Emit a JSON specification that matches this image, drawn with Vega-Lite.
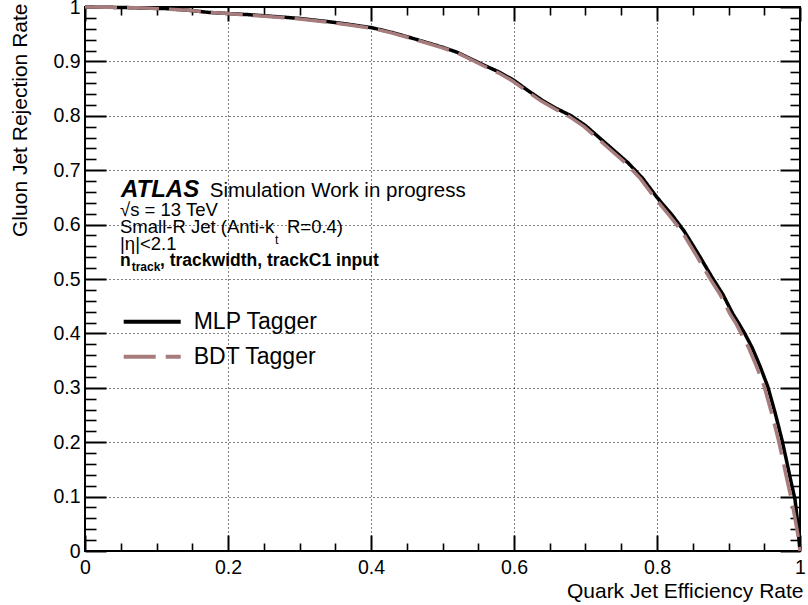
{
  "$schema": "https://vega.github.io/schema/vega-lite/v6.json",
  "width": 715,
  "height": 544,
  "autosize": {"type": "none"},
  "padding": {"left": 85, "top": 7, "right": 8, "bottom": 54},
  "background": "white",
  "config": {
    "view": {"stroke": "black", "strokeWidth": 2},
    "font": "Liberation Sans",
    "axis": {"labelFont": "Liberation Sans", "titleFont": "Liberation Sans", "labelColor": "black", "titleColor": "black", "tickColor": "black", "titleFontWeight": "normal"},
    "legend": {"labelFont": "Liberation Sans", "labelColor": "black"}
  },
  "datasets": {
    "curves": [
      {"tagger": "MLP Tagger", "eff": 0.000, "rej": 1.000},
      {"tagger": "MLP Tagger", "eff": 0.030, "rej": 0.9995},
      {"tagger": "MLP Tagger", "eff": 0.056, "rej": 0.999},
      {"tagger": "MLP Tagger", "eff": 0.085, "rej": 0.998},
      {"tagger": "MLP Tagger", "eff": 0.114, "rej": 0.997},
      {"tagger": "MLP Tagger", "eff": 0.145, "rej": 0.994},
      {"tagger": "MLP Tagger", "eff": 0.173, "rej": 0.990},
      {"tagger": "MLP Tagger", "eff": 0.200, "rej": 0.988},
      {"tagger": "MLP Tagger", "eff": 0.228, "rej": 0.986},
      {"tagger": "MLP Tagger", "eff": 0.260, "rej": 0.983},
      {"tagger": "MLP Tagger", "eff": 0.300, "rej": 0.979},
      {"tagger": "MLP Tagger", "eff": 0.341, "rej": 0.973},
      {"tagger": "MLP Tagger", "eff": 0.370, "rej": 0.968},
      {"tagger": "MLP Tagger", "eff": 0.401, "rej": 0.962},
      {"tagger": "MLP Tagger", "eff": 0.430, "rej": 0.953},
      {"tagger": "MLP Tagger", "eff": 0.462, "rej": 0.941},
      {"tagger": "MLP Tagger", "eff": 0.500, "rej": 0.926},
      {"tagger": "MLP Tagger", "eff": 0.520, "rej": 0.917},
      {"tagger": "MLP Tagger", "eff": 0.539, "rej": 0.905},
      {"tagger": "MLP Tagger", "eff": 0.558, "rej": 0.893},
      {"tagger": "MLP Tagger", "eff": 0.580, "rej": 0.880},
      {"tagger": "MLP Tagger", "eff": 0.600, "rej": 0.865},
      {"tagger": "MLP Tagger", "eff": 0.620, "rej": 0.846},
      {"tagger": "MLP Tagger", "eff": 0.640, "rej": 0.828},
      {"tagger": "MLP Tagger", "eff": 0.660, "rej": 0.813},
      {"tagger": "MLP Tagger", "eff": 0.680, "rej": 0.800},
      {"tagger": "MLP Tagger", "eff": 0.700, "rej": 0.782},
      {"tagger": "MLP Tagger", "eff": 0.720, "rej": 0.759},
      {"tagger": "MLP Tagger", "eff": 0.740, "rej": 0.736},
      {"tagger": "MLP Tagger", "eff": 0.760, "rej": 0.713},
      {"tagger": "MLP Tagger", "eff": 0.780, "rej": 0.685},
      {"tagger": "MLP Tagger", "eff": 0.800, "rej": 0.650},
      {"tagger": "MLP Tagger", "eff": 0.822, "rej": 0.616},
      {"tagger": "MLP Tagger", "eff": 0.838, "rej": 0.588},
      {"tagger": "MLP Tagger", "eff": 0.860, "rej": 0.541},
      {"tagger": "MLP Tagger", "eff": 0.877, "rej": 0.503},
      {"tagger": "MLP Tagger", "eff": 0.892, "rej": 0.472},
      {"tagger": "MLP Tagger", "eff": 0.906, "rej": 0.436},
      {"tagger": "MLP Tagger", "eff": 0.915, "rej": 0.417},
      {"tagger": "MLP Tagger", "eff": 0.923, "rej": 0.399},
      {"tagger": "MLP Tagger", "eff": 0.933, "rej": 0.374},
      {"tagger": "MLP Tagger", "eff": 0.944, "rej": 0.340},
      {"tagger": "MLP Tagger", "eff": 0.955, "rej": 0.302},
      {"tagger": "MLP Tagger", "eff": 0.966, "rej": 0.250},
      {"tagger": "MLP Tagger", "eff": 0.975, "rej": 0.203},
      {"tagger": "MLP Tagger", "eff": 0.981, "rej": 0.167},
      {"tagger": "MLP Tagger", "eff": 0.987, "rej": 0.130},
      {"tagger": "MLP Tagger", "eff": 0.993, "rej": 0.095},
      {"tagger": "MLP Tagger", "eff": 0.996, "rej": 0.060},
      {"tagger": "MLP Tagger", "eff": 0.998, "rej": 0.030},
      {"tagger": "MLP Tagger", "eff": 1.000, "rej": 0.000},
      {"tagger": "BDT Tagger", "eff": 0.000, "rej": 1.000},
      {"tagger": "BDT Tagger", "eff": 0.030, "rej": 0.9995},
      {"tagger": "BDT Tagger", "eff": 0.056, "rej": 0.999},
      {"tagger": "BDT Tagger", "eff": 0.085, "rej": 0.998},
      {"tagger": "BDT Tagger", "eff": 0.114, "rej": 0.996},
      {"tagger": "BDT Tagger", "eff": 0.145, "rej": 0.994},
      {"tagger": "BDT Tagger", "eff": 0.173, "rej": 0.990},
      {"tagger": "BDT Tagger", "eff": 0.200, "rej": 0.988},
      {"tagger": "BDT Tagger", "eff": 0.228, "rej": 0.985},
      {"tagger": "BDT Tagger", "eff": 0.260, "rej": 0.982},
      {"tagger": "BDT Tagger", "eff": 0.300, "rej": 0.978},
      {"tagger": "BDT Tagger", "eff": 0.341, "rej": 0.972},
      {"tagger": "BDT Tagger", "eff": 0.370, "rej": 0.967},
      {"tagger": "BDT Tagger", "eff": 0.401, "rej": 0.961},
      {"tagger": "BDT Tagger", "eff": 0.430, "rej": 0.952},
      {"tagger": "BDT Tagger", "eff": 0.462, "rej": 0.940},
      {"tagger": "BDT Tagger", "eff": 0.500, "rej": 0.925},
      {"tagger": "BDT Tagger", "eff": 0.520, "rej": 0.916},
      {"tagger": "BDT Tagger", "eff": 0.539, "rej": 0.904},
      {"tagger": "BDT Tagger", "eff": 0.557, "rej": 0.892},
      {"tagger": "BDT Tagger", "eff": 0.578, "rej": 0.879},
      {"tagger": "BDT Tagger", "eff": 0.598, "rej": 0.864},
      {"tagger": "BDT Tagger", "eff": 0.618, "rej": 0.845},
      {"tagger": "BDT Tagger", "eff": 0.638, "rej": 0.827},
      {"tagger": "BDT Tagger", "eff": 0.658, "rej": 0.812},
      {"tagger": "BDT Tagger", "eff": 0.678, "rej": 0.798},
      {"tagger": "BDT Tagger", "eff": 0.698, "rej": 0.780},
      {"tagger": "BDT Tagger", "eff": 0.718, "rej": 0.757},
      {"tagger": "BDT Tagger", "eff": 0.738, "rej": 0.734},
      {"tagger": "BDT Tagger", "eff": 0.758, "rej": 0.711},
      {"tagger": "BDT Tagger", "eff": 0.777, "rej": 0.684},
      {"tagger": "BDT Tagger", "eff": 0.797, "rej": 0.649},
      {"tagger": "BDT Tagger", "eff": 0.819, "rej": 0.614},
      {"tagger": "BDT Tagger", "eff": 0.835, "rej": 0.587},
      {"tagger": "BDT Tagger", "eff": 0.856, "rej": 0.541},
      {"tagger": "BDT Tagger", "eff": 0.873, "rej": 0.503},
      {"tagger": "BDT Tagger", "eff": 0.888, "rej": 0.472},
      {"tagger": "BDT Tagger", "eff": 0.902, "rej": 0.436},
      {"tagger": "BDT Tagger", "eff": 0.911, "rej": 0.417},
      {"tagger": "BDT Tagger", "eff": 0.918, "rej": 0.399},
      {"tagger": "BDT Tagger", "eff": 0.928, "rej": 0.374},
      {"tagger": "BDT Tagger", "eff": 0.939, "rej": 0.340},
      {"tagger": "BDT Tagger", "eff": 0.950, "rej": 0.302},
      {"tagger": "BDT Tagger", "eff": 0.961, "rej": 0.250},
      {"tagger": "BDT Tagger", "eff": 0.970, "rej": 0.203},
      {"tagger": "BDT Tagger", "eff": 0.976, "rej": 0.167},
      {"tagger": "BDT Tagger", "eff": 0.982, "rej": 0.130},
      {"tagger": "BDT Tagger", "eff": 0.988, "rej": 0.095},
      {"tagger": "BDT Tagger", "eff": 0.993, "rej": 0.060},
      {"tagger": "BDT Tagger", "eff": 0.997, "rej": 0.030},
      {"tagger": "BDT Tagger", "eff": 1.000, "rej": 0.000}
    ],
    "notes": [
      {"kind": "atlas", "x": 0.0503, "y": 0.6513, "label": "ATLAS"},
      {"kind": "head", "x": 0.1745, "y": 0.6513, "label": "Simulation Work in progress"},
      {"kind": "info", "x": 0.049, "y": 0.6153, "label": "√s = 13 TeV"},
      {"kind": "info", "x": 0.049, "y": 0.5846, "label": "Small-R Jet (Anti-k"},
      {"kind": "sub", "x": 0.2657, "y": 0.5649, "label": "t"},
      {"kind": "info", "x": 0.2825, "y": 0.5846, "label": "R=0.4)"},
      {"kind": "info", "x": 0.049, "y": 0.5539, "label": "|η|<2.1"},
      {"kind": "bold", "x": 0.049, "y": 0.5233, "label": "n"},
      {"kind": "boldsub", "x": 0.0653, "y": 0.5138, "label": "track"},
      {"kind": "bold", "x": 0.1049, "y": 0.5233, "label": ", trackwidth, trackC1 input"}
    ]
  },
  "layer": [
    {
      "data": {"name": "curves"},
      "mark": {"type": "line", "strokeWidth": 3.5},
      "encoding": {
        "x": {"field": "eff", "type": "quantitative",
          "scale": {"domain": [0, 1], "nice": false, "zero": false},
          "axis": {"orient": "bottom", "values": [0, 0.2, 0.4, 0.6, 0.8, 1], "format": "~g",
            "labels": true, "labelFontSize": 19.5, "labelPadding": 7, "labelFlush": false,
            "ticks": false, "domain": false,
            "grid": true, "gridDash": [1, 3], "gridColor": "black", "gridWidth": 1, "gridOpacity": 1,
            "title": "Quark Jet Efficiency Rate", "titleFontSize": 21,
            "titleAlign": "right", "titleBaseline": "alphabetic", "titleX": 718, "titleY": 46.5}},
        "y": {"field": "rej", "type": "quantitative",
          "scale": {"domain": [0, 1], "nice": false, "zero": false},
          "axis": {"orient": "left", "values": [0, 0.1, 0.2, 0.3, 0.4, 0.5, 0.6, 0.7, 0.8, 0.9, 1], "format": "~g",
            "labels": true, "labelFontSize": 19.5, "labelPadding": 5,
            "ticks": false, "domain": false,
            "grid": true, "gridDash": [1, 3], "gridColor": "black", "gridWidth": 1, "gridOpacity": 1,
            "title": "Gluon Jet Rejection Rate", "titleFontSize": 21, "titleAngle": -90,
            "titleAlign": "right", "titleBaseline": "alphabetic", "titleX": -59, "titleY": -4}},
        "color": {"field": "tagger", "type": "nominal",
          "scale": {"domain": ["MLP Tagger", "BDT Tagger"], "range": ["#000000", "#a67c7c"]},
          "legend": {"title": null, "orient": "none", "legendX": 36.7, "legendY": 297.2, "padding": 0,
            "symbolType": "stroke", "symbolSize": 3249, "symbolStrokeWidth": 4,
            "labelFontSize": 23, "labelOffset": 11, "clipHeight": 35, "rowPadding": 0, "labelLimit": 400}},
        "strokeDash": {"field": "tagger", "type": "nominal",
          "scale": {"domain": ["MLP Tagger", "BDT Tagger"], "range": [[1, 0], [32, 10]]},
          "legend": {"title": null, "orient": "none", "legendX": 36.7, "legendY": 297.2, "padding": 0,
            "symbolType": "stroke", "symbolSize": 3249, "symbolStrokeWidth": 4,
            "labelFontSize": 23, "labelOffset": 11, "clipHeight": 35, "rowPadding": 0, "labelLimit": 400}}
      }
    },
    {
      "data": {"name": "curves"},
      "mark": {"type": "point", "opacity": 0},
      "encoding": {
        "x": {"field": "eff", "type": "quantitative", "scale": {"domain": [0, 1], "nice": false, "zero": false},
          "axis": {"orient": "bottom", "values": [0, 0.2, 0.4, 0.6, 0.8, 1], "labels": false, "domain": false, "grid": false,
            "ticks": true, "tickSize": -16, "tickWidth": 2, "title": null}},
        "y": {"field": "rej", "type": "quantitative", "scale": {"domain": [0, 1], "nice": false, "zero": false},
          "axis": {"orient": "left", "values": [0, 0.1, 0.2, 0.3, 0.4, 0.5, 0.6, 0.7, 0.8, 0.9, 1], "labels": false, "domain": false, "grid": false,
            "ticks": true, "tickSize": -21, "tickWidth": 2, "title": null}}
      }
    },
    {
      "data": {"name": "curves"},
      "mark": {"type": "point", "opacity": 0},
      "encoding": {
        "x": {"field": "eff", "type": "quantitative", "scale": {"domain": [0, 1], "nice": false, "zero": false},
          "axis": {"orient": "bottom", "values": [0.05, 0.1, 0.15, 0.25, 0.3, 0.35, 0.45, 0.5, 0.55, 0.65, 0.7, 0.75, 0.85, 0.9, 0.95], "labels": false, "domain": false, "grid": false,
            "ticks": true, "tickSize": -8, "tickWidth": 1.6, "title": null}},
        "y": {"field": "rej", "type": "quantitative", "scale": {"domain": [0, 1], "nice": false, "zero": false},
          "axis": {"orient": "left", "values": [0.02, 0.04, 0.06, 0.08, 0.12, 0.14, 0.16, 0.18, 0.22, 0.24, 0.26, 0.28, 0.32, 0.34, 0.36, 0.38, 0.42, 0.44, 0.46, 0.48, 0.52, 0.54, 0.56, 0.58, 0.62, 0.64, 0.66, 0.68, 0.72, 0.74, 0.76, 0.78, 0.82, 0.84, 0.86, 0.88, 0.92, 0.94, 0.96, 0.98], "labels": false, "domain": false, "grid": false,
            "ticks": true, "tickSize": -11, "tickWidth": 1.6, "title": null}}
      }
    },
    {
      "data": {"name": "curves"},
      "mark": {"type": "point", "opacity": 0},
      "encoding": {
        "x": {"field": "eff", "type": "quantitative", "scale": {"domain": [0, 1], "nice": false, "zero": false},
          "axis": {"orient": "top", "values": [0, 0.2, 0.4, 0.6, 0.8, 1], "labels": false, "domain": false, "grid": false,
            "ticks": true, "tickSize": -14, "tickWidth": 2, "title": null}},
        "y": {"field": "rej", "type": "quantitative", "scale": {"domain": [0, 1], "nice": false, "zero": false},
          "axis": {"orient": "right", "values": [0, 0.1, 0.2, 0.3, 0.4, 0.5, 0.6, 0.7, 0.8, 0.9, 1], "labels": false, "domain": false, "grid": false,
            "ticks": true, "tickSize": -20, "tickWidth": 2, "title": null}}
      }
    },
    {
      "data": {"name": "curves"},
      "mark": {"type": "point", "opacity": 0},
      "encoding": {
        "x": {"field": "eff", "type": "quantitative", "scale": {"domain": [0, 1], "nice": false, "zero": false},
          "axis": {"orient": "top", "values": [0.05, 0.1, 0.15, 0.25, 0.3, 0.35, 0.45, 0.5, 0.55, 0.65, 0.7, 0.75, 0.85, 0.9, 0.95], "labels": false, "domain": false, "grid": false,
            "ticks": true, "tickSize": -8, "tickWidth": 1.6, "title": null}},
        "y": {"field": "rej", "type": "quantitative", "scale": {"domain": [0, 1], "nice": false, "zero": false},
          "axis": {"orient": "right", "values": [0.02, 0.04, 0.06, 0.08, 0.12, 0.14, 0.16, 0.18, 0.22, 0.24, 0.26, 0.28, 0.32, 0.34, 0.36, 0.38, 0.42, 0.44, 0.46, 0.48, 0.52, 0.54, 0.56, 0.58, 0.62, 0.64, 0.66, 0.68, 0.72, 0.74, 0.76, 0.78, 0.82, 0.84, 0.86, 0.88, 0.92, 0.94, 0.96, 0.98], "labels": false, "domain": false, "grid": false,
            "ticks": true, "tickSize": -10, "tickWidth": 1.6, "title": null}}
      }
    },
    {
      "data": {"name": "notes"},
      "transform": [{"filter": "datum.kind === 'atlas'"}],
      "mark": {"type": "text", "align": "left", "baseline": "alphabetic", "font": "Liberation Sans", "fontSize": 24, "fontWeight": "bold", "fontStyle": "italic", "color": "black"},
      "encoding": {
        "x": {"field": "x", "type": "quantitative", "scale": {"domain": [0, 1], "nice": false, "zero": false}, "axis": null},
        "y": {"field": "y", "type": "quantitative", "scale": {"domain": [0, 1], "nice": false, "zero": false}, "axis": null},
        "text": {"field": "label"}
      }
    },
    {
      "data": {"name": "notes"},
      "transform": [{"filter": "datum.kind === 'head'"}],
      "mark": {"type": "text", "align": "left", "baseline": "alphabetic", "font": "Liberation Sans", "fontSize": 20.5, "color": "black"},
      "encoding": {
        "x": {"field": "x", "type": "quantitative", "scale": {"domain": [0, 1], "nice": false, "zero": false}, "axis": null},
        "y": {"field": "y", "type": "quantitative", "scale": {"domain": [0, 1], "nice": false, "zero": false}, "axis": null},
        "text": {"field": "label"}
      }
    },
    {
      "data": {"name": "notes"},
      "transform": [{"filter": "datum.kind === 'info'"}],
      "mark": {"type": "text", "align": "left", "baseline": "alphabetic", "font": "Liberation Sans", "fontSize": 18.5, "color": "black"},
      "encoding": {
        "x": {"field": "x", "type": "quantitative", "scale": {"domain": [0, 1], "nice": false, "zero": false}, "axis": null},
        "y": {"field": "y", "type": "quantitative", "scale": {"domain": [0, 1], "nice": false, "zero": false}, "axis": null},
        "text": {"field": "label"}
      }
    },
    {
      "data": {"name": "notes"},
      "transform": [{"filter": "datum.kind === 'sub'"}],
      "mark": {"type": "text", "align": "left", "baseline": "alphabetic", "font": "Liberation Sans", "fontSize": 12.5, "color": "black"},
      "encoding": {
        "x": {"field": "x", "type": "quantitative", "scale": {"domain": [0, 1], "nice": false, "zero": false}, "axis": null},
        "y": {"field": "y", "type": "quantitative", "scale": {"domain": [0, 1], "nice": false, "zero": false}, "axis": null},
        "text": {"field": "label"}
      }
    },
    {
      "data": {"name": "notes"},
      "transform": [{"filter": "datum.kind === 'bold'"}],
      "mark": {"type": "text", "align": "left", "baseline": "alphabetic", "font": "Liberation Sans", "fontSize": 17.5, "fontWeight": "bold", "color": "black"},
      "encoding": {
        "x": {"field": "x", "type": "quantitative", "scale": {"domain": [0, 1], "nice": false, "zero": false}, "axis": null},
        "y": {"field": "y", "type": "quantitative", "scale": {"domain": [0, 1], "nice": false, "zero": false}, "axis": null},
        "text": {"field": "label"}
      }
    },
    {
      "data": {"name": "notes"},
      "transform": [{"filter": "datum.kind === 'boldsub'"}],
      "mark": {"type": "text", "align": "left", "baseline": "alphabetic", "font": "Liberation Sans", "fontSize": 12, "fontWeight": "bold", "color": "black"},
      "encoding": {
        "x": {"field": "x", "type": "quantitative", "scale": {"domain": [0, 1], "nice": false, "zero": false}, "axis": null},
        "y": {"field": "y", "type": "quantitative", "scale": {"domain": [0, 1], "nice": false, "zero": false}, "axis": null},
        "text": {"field": "label"}
      }
    }
  ],
  "resolve": {"axis": {"x": "independent", "y": "independent"}}
}
